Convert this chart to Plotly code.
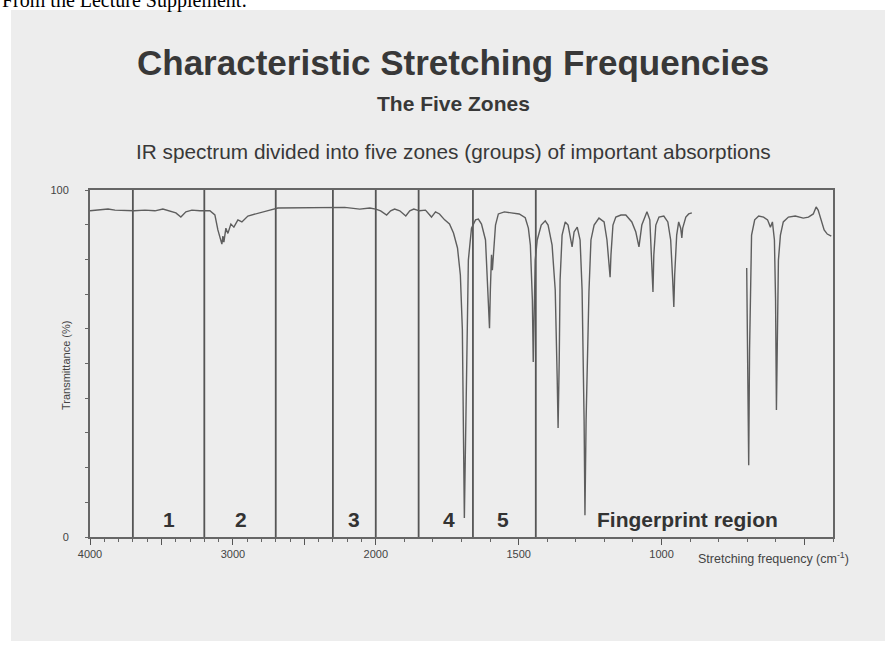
import plotly.graph_objects as go

# ---------------- data ----------------
wavenumber = [
    4000, 3930, 3874, 3825, 3755, 3692, 3615, 3545, 3490, 3441, 3399, 3364, 3329, 3287, 3231,
    3161, 3126, 3105, 3084, 3077, 3070, 3063, 3049, 3035, 3014, 2993, 2965, 2937, 2895, 2846,
    2797, 2741, 2685, 2601, 2531, 2427, 2322, 2217, 2112, 2042, 2000,
    1983, 1962, 1948, 1934, 1916, 1895, 1881, 1867, 1847, 1826, 1805, 1791, 1777, 1759, 1742,
    1728, 1714, 1704, 1697, 1690, 1683, 1676, 1665, 1651, 1641, 1630, 1616, 1606, 1602, 1599,
    1595, 1592, 1588, 1581, 1571, 1550, 1526, 1498, 1477, 1466, 1459, 1452, 1449, 1442, 1435,
    1421, 1407, 1397, 1383, 1372, 1365, 1362, 1358, 1355, 1348, 1337, 1327, 1316, 1313, 1306,
    1295, 1285, 1278, 1271, 1268, 1264, 1257, 1254, 1247, 1236, 1219, 1201, 1191, 1184, 1180,
    1177, 1170, 1160, 1142, 1125, 1104, 1090, 1079, 1069, 1051, 1041, 1034, 1030, 1027, 1020,
    1009, 992, 978, 968, 961, 957, 954, 947, 940, 933, 929, 926, 915, 905, 894,
    800,
    702, 699, 695, 692, 688, 685, 674, 660, 643, 629, 619, 612, 605, 601, 598,
    595, 591, 584, 574, 556, 532, 504, 486, 469, 459, 452, 441, 431, 420, 406,
]
transmittance = [
    94.0, 94.2, 94.5, 94.2, 94.0, 94.0, 94.2, 94.0, 94.5, 94.0, 93.4, 92.2, 93.7, 94.2, 94.0,
    94.0, 92.8, 88.5, 85.6, 84.4, 86.7, 85.0, 89.0, 87.5, 90.2, 89.3, 91.4, 90.8, 92.5, 93.1,
    93.6, 94.2, 94.8, 94.8, 95.0, 94.8, 94.8, 95.0, 94.5, 94.8, 94.5,
    94.0, 92.8, 94.0, 94.5, 94.0, 92.5, 94.0, 94.5, 94.0, 94.2, 92.2, 93.7, 93.1, 91.4, 90.2,
    87.6, 83.3, 75.5, 59.7, 5.5, 39.5, 79.8, 89.0, 91.4, 91.6, 90.2, 85.6, 68.3, 60.2, 71.2,
    81.3, 76.9, 82.7, 89.9, 93.1, 93.7, 93.4, 93.1, 92.0, 89.0, 84.1, 68.3, 50.4, 79.8, 85.6,
    89.9, 91.1, 89.9, 84.1, 71.2, 45.2, 31.4, 51.0, 74.1, 87.0, 90.8, 89.9, 85.6, 83.6, 87.9,
    89.3, 85.6, 71.2, 33.7, 6.3, 33.7, 68.3, 70.6, 85.6, 89.9, 91.9, 90.8, 85.6, 78.4, 74.9,
    81.3, 89.9, 92.2, 92.8, 92.8, 90.8, 87.9, 83.6, 89.9, 93.7, 91.4, 79.8, 70.6, 81.3, 89.9,
    92.2, 92.5, 90.8, 85.6, 74.1, 66.3, 75.5, 87.0, 90.8, 89.0, 86.2, 89.0, 92.2, 93.1, 93.4,
    None,
    77.5, 53.9, 20.7, 53.9, 79.8, 87.0, 91.4, 92.5, 92.2, 91.4, 89.3, 90.8, 85.6, 68.3, 36.6,
    62.5, 79.8, 87.0, 90.8, 92.2, 92.5, 91.9, 92.2, 93.1, 95.1, 94.2, 91.4, 88.5, 87.3, 86.7,
]

zone_bounds = [3700, 3200, 2700, 2300, 2000, 1850, 1660, 1440]
zone_labels = ["1", "2", "3", "4", "5", "Fingerprint region"]
zone_label_x = [3450, 2940, 2150, 1745, 1555, 908]

major_ticks = [4000, 3500, 3000, 2500, 2000, 1500, 1000, 500]
major_tick_labels = ["4000", "", "3000", "", "2000", "1500", "1000", ""]
minor_ticks = [3900, 3800, 3700, 3600, 3400, 3300, 3200, 3100, 2900, 2800, 2700, 2600,
               2400, 2300, 2200, 2100, 1900, 1800, 1700, 1600, 1400, 1300, 1200, 1100,
               900, 800, 700, 600, 400]
y_ticks = [0, 10, 20, 30, 40, 50, 60, 70, 80, 90, 100]
y_tick_labels = ["0", "", "", "", "", "", "", "", "", "", "100"]

title_text = "Characteristic Stretching Frequencies"
subtitle_text = "The Five Zones"
caption_text = "IR spectrum divided into five zones (groups) of important absorptions"
header_text = "From the Lecture Supplement:"


# IR charts use a 2x expanded scale below 2000 cm-1
def axis_pos(w):
    return 4000 - w if w >= 2000 else 2000 + 2 * (2000 - w)


# ---------------- layout geometry ----------------
W, H = 885, 645
L, R, T, B = 90, 833, 190, 537


def px(xp):
    return (xp - L) / (R - L)


def py(yp):
    return (B - yp) / (B - T)


SANS = "Liberation Sans, Arial, sans-serif"

xs = [axis_pos(w) for w in wavenumber]

fig = go.Figure()
fig.add_trace(go.Scatter(
    x=xs, y=transmittance, mode="lines", connectgaps=False,
    line=dict(color="#5e5e5e", width=1.4), hoverinfo="skip", showlegend=False,
))

shapes = [
    dict(type="rect", xref="paper", yref="paper", x0=px(11), x1=px(885), y0=py(641), y1=py(10),
         fillcolor="#ededed", line=dict(width=0), layer="below"),
]
for zb in zone_bounds:
    shapes.append(dict(type="line", xref="x", yref="paper", x0=axis_pos(zb), x1=axis_pos(zb),
                       y0=0, y1=1, line=dict(color="#555555", width=1.8), layer="below"))

annotations = [
    dict(text=header_text, xref="paper", yref="paper", x=px(0), y=py(14), xanchor="left",
         yanchor="bottom", showarrow=False,
         font=dict(family="Liberation Serif, Times New Roman, serif", size=20, color="#000000")),
    dict(text="<b>" + title_text + "</b>", xref="paper", yref="paper", x=px(453), y=py(62),
         xanchor="center", yanchor="middle", showarrow=False,
         font=dict(family=SANS, size=35, color="#383838")),
    dict(text="<b>" + subtitle_text + "</b>", xref="paper", yref="paper", x=px(453), y=py(103),
         xanchor="center", yanchor="middle", showarrow=False,
         font=dict(family=SANS, size=21, color="#383838")),
    dict(text=caption_text, xref="paper", yref="paper", x=px(453), y=py(151),
         xanchor="center", yanchor="middle", showarrow=False,
         font=dict(family=SANS, size=20.8, color="#383838")),
    dict(text="Transmittance (%)", xref="paper", yref="paper", x=px(66), y=py(366),
         xanchor="center", yanchor="middle", textangle=-90, showarrow=False,
         font=dict(family=SANS, size=11, color="#444444")),
    dict(text="Stretching frequency (cm<sup>-1</sup>)", xref="paper", yref="paper", x=px(773),
         y=py(558), xanchor="center", yanchor="middle", showarrow=False,
         font=dict(family=SANS, size=12.5, color="#444444")),
]
for lab, wx in zip(zone_labels, zone_label_x):
    annotations.append(dict(text="<b>" + lab + "</b>", x=axis_pos(wx), y=py(519) * 100,
                            xref="x", yref="y", xanchor="center", yanchor="middle", showarrow=False,
                            font=dict(family=SANS, size=21, color="#333333")))

fig.update_layout(
    width=W, height=H,
    margin=dict(l=L, r=W - R, t=T, b=H - B, pad=0),
    paper_bgcolor="#ffffff", plot_bgcolor="rgba(0,0,0,0)",
    shapes=shapes, annotations=annotations,
    xaxis=dict(range=[axis_pos(4000), axis_pos(400)], tickvals=[axis_pos(v) for v in major_ticks],
               ticktext=major_tick_labels, ticks="outside", ticklen=6, tickwidth=1.2,
               tickcolor="#555555", showgrid=False, zeroline=False, showline=True, mirror=True,
               linecolor="#666666", linewidth=2,
               tickfont=dict(family=SANS, size=11, color="#444444"),
               minor=dict(tickvals=[axis_pos(v) for v in minor_ticks], ticks="outside", ticklen=3,
                          tickcolor="#666666", tickwidth=1, showgrid=False)),
    yaxis=dict(range=[0, 100], tickvals=y_ticks, ticktext=y_tick_labels, ticks="outside", ticklen=3,
               tickcolor="#666666", tickwidth=1, showgrid=False, zeroline=False, showline=True,
               mirror=True, linecolor="#666666", linewidth=2, ticklabelstandoff=14,
               tickfont=dict(family=SANS, size=11, color="#444444")),
)

fig.write_html("out.html", config={"displayModeBar": False},
               post_script="document.body.style.margin='0';document.body.style.padding='0';")
